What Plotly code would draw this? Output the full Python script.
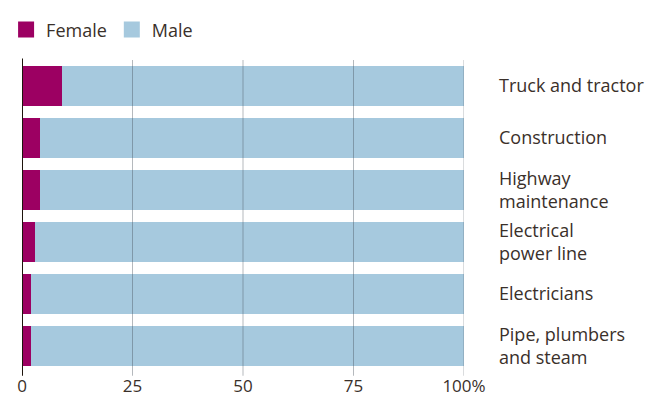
import plotly.graph_objects as go

categories = ["Truck and tractor", "Construction", "Highway<br>maintenance",
              "Electrical<br>power line", "Electricians", "Pipe, plumbers<br>and steam"]
female = [9, 4, 4, 3, 2, 2]
male = [91, 96, 96, 97, 98, 98]
tick_vals = [0, 25, 50, 75, 100]
tick_text = ["0", "25", "50", "75", "100%"]

FEMALE_C = "#9c0062"
MALE_C = "#a6c9de"
TEXT_C = "#3a302a"
FONT = "Open Sans"

fig = go.Figure()
fig.add_trace(go.Bar(y=categories, x=female, orientation="h", marker_color=FEMALE_C,
                     marker_line_width=0, showlegend=False, name="Female"))
fig.add_trace(go.Bar(y=categories, x=male, orientation="h", marker_color=MALE_C,
                     marker_line_width=0, showlegend=False, name="Male"))
# legend entries with larger squares
for nm, c in [("Female", FEMALE_C), ("Male", MALE_C)]:
    fig.add_trace(go.Scatter(x=[None], y=[None], mode="markers", name=nm,
                             marker=dict(symbol="square", size=16, color=c)))

shapes = []
for v in tick_vals:
    if v == 0:
        shapes.append(dict(type="line", xref="x", yref="paper", x0=v, x1=v, y0=-0.012, y1=1.005,
                           line=dict(color="#1e140c", width=2), layer="above"))
    else:
        shapes.append(dict(type="line", xref="x", yref="paper", x0=v, x1=v, y0=-0.012, y1=1.0,
                           line=dict(color="rgba(70,80,90,0.4)", width=1), layer="above"))

fig.update_layout(
    width=666, height=398,
    margin=dict(l=22, r=202, t=60, b=26, autoexpand=False),
    barmode="stack", bargap=0.23,
    plot_bgcolor="white", paper_bgcolor="white",
    font=dict(family=FONT, size=18, color=TEXT_C),
    shapes=shapes,
    legend=dict(orientation="h", traceorder="normal", x=-0.036, xref="paper",
                y=0.925, yref="container", yanchor="middle",
                font=dict(size=18, color=TEXT_C), itemclick=False,
                bgcolor="rgba(0,0,0,0)"),
    xaxis=dict(range=[0, 100], tickvals=tick_vals, ticktext=tick_text, showgrid=False,
               zeroline=False, showline=False, ticks="", automargin=False,
               ticklabelstandoff=2, tickfont=dict(size=17, color=TEXT_C)),
    yaxis=dict(categoryorder="array", categoryarray=categories, autorange="reversed",
               side="right", showgrid=False, zeroline=False, showline=False, ticks="",
               automargin=False, ticklabelstandoff=34, tickfont=dict(size=18, color=TEXT_C)),
)

fig.write_html("out.html")
